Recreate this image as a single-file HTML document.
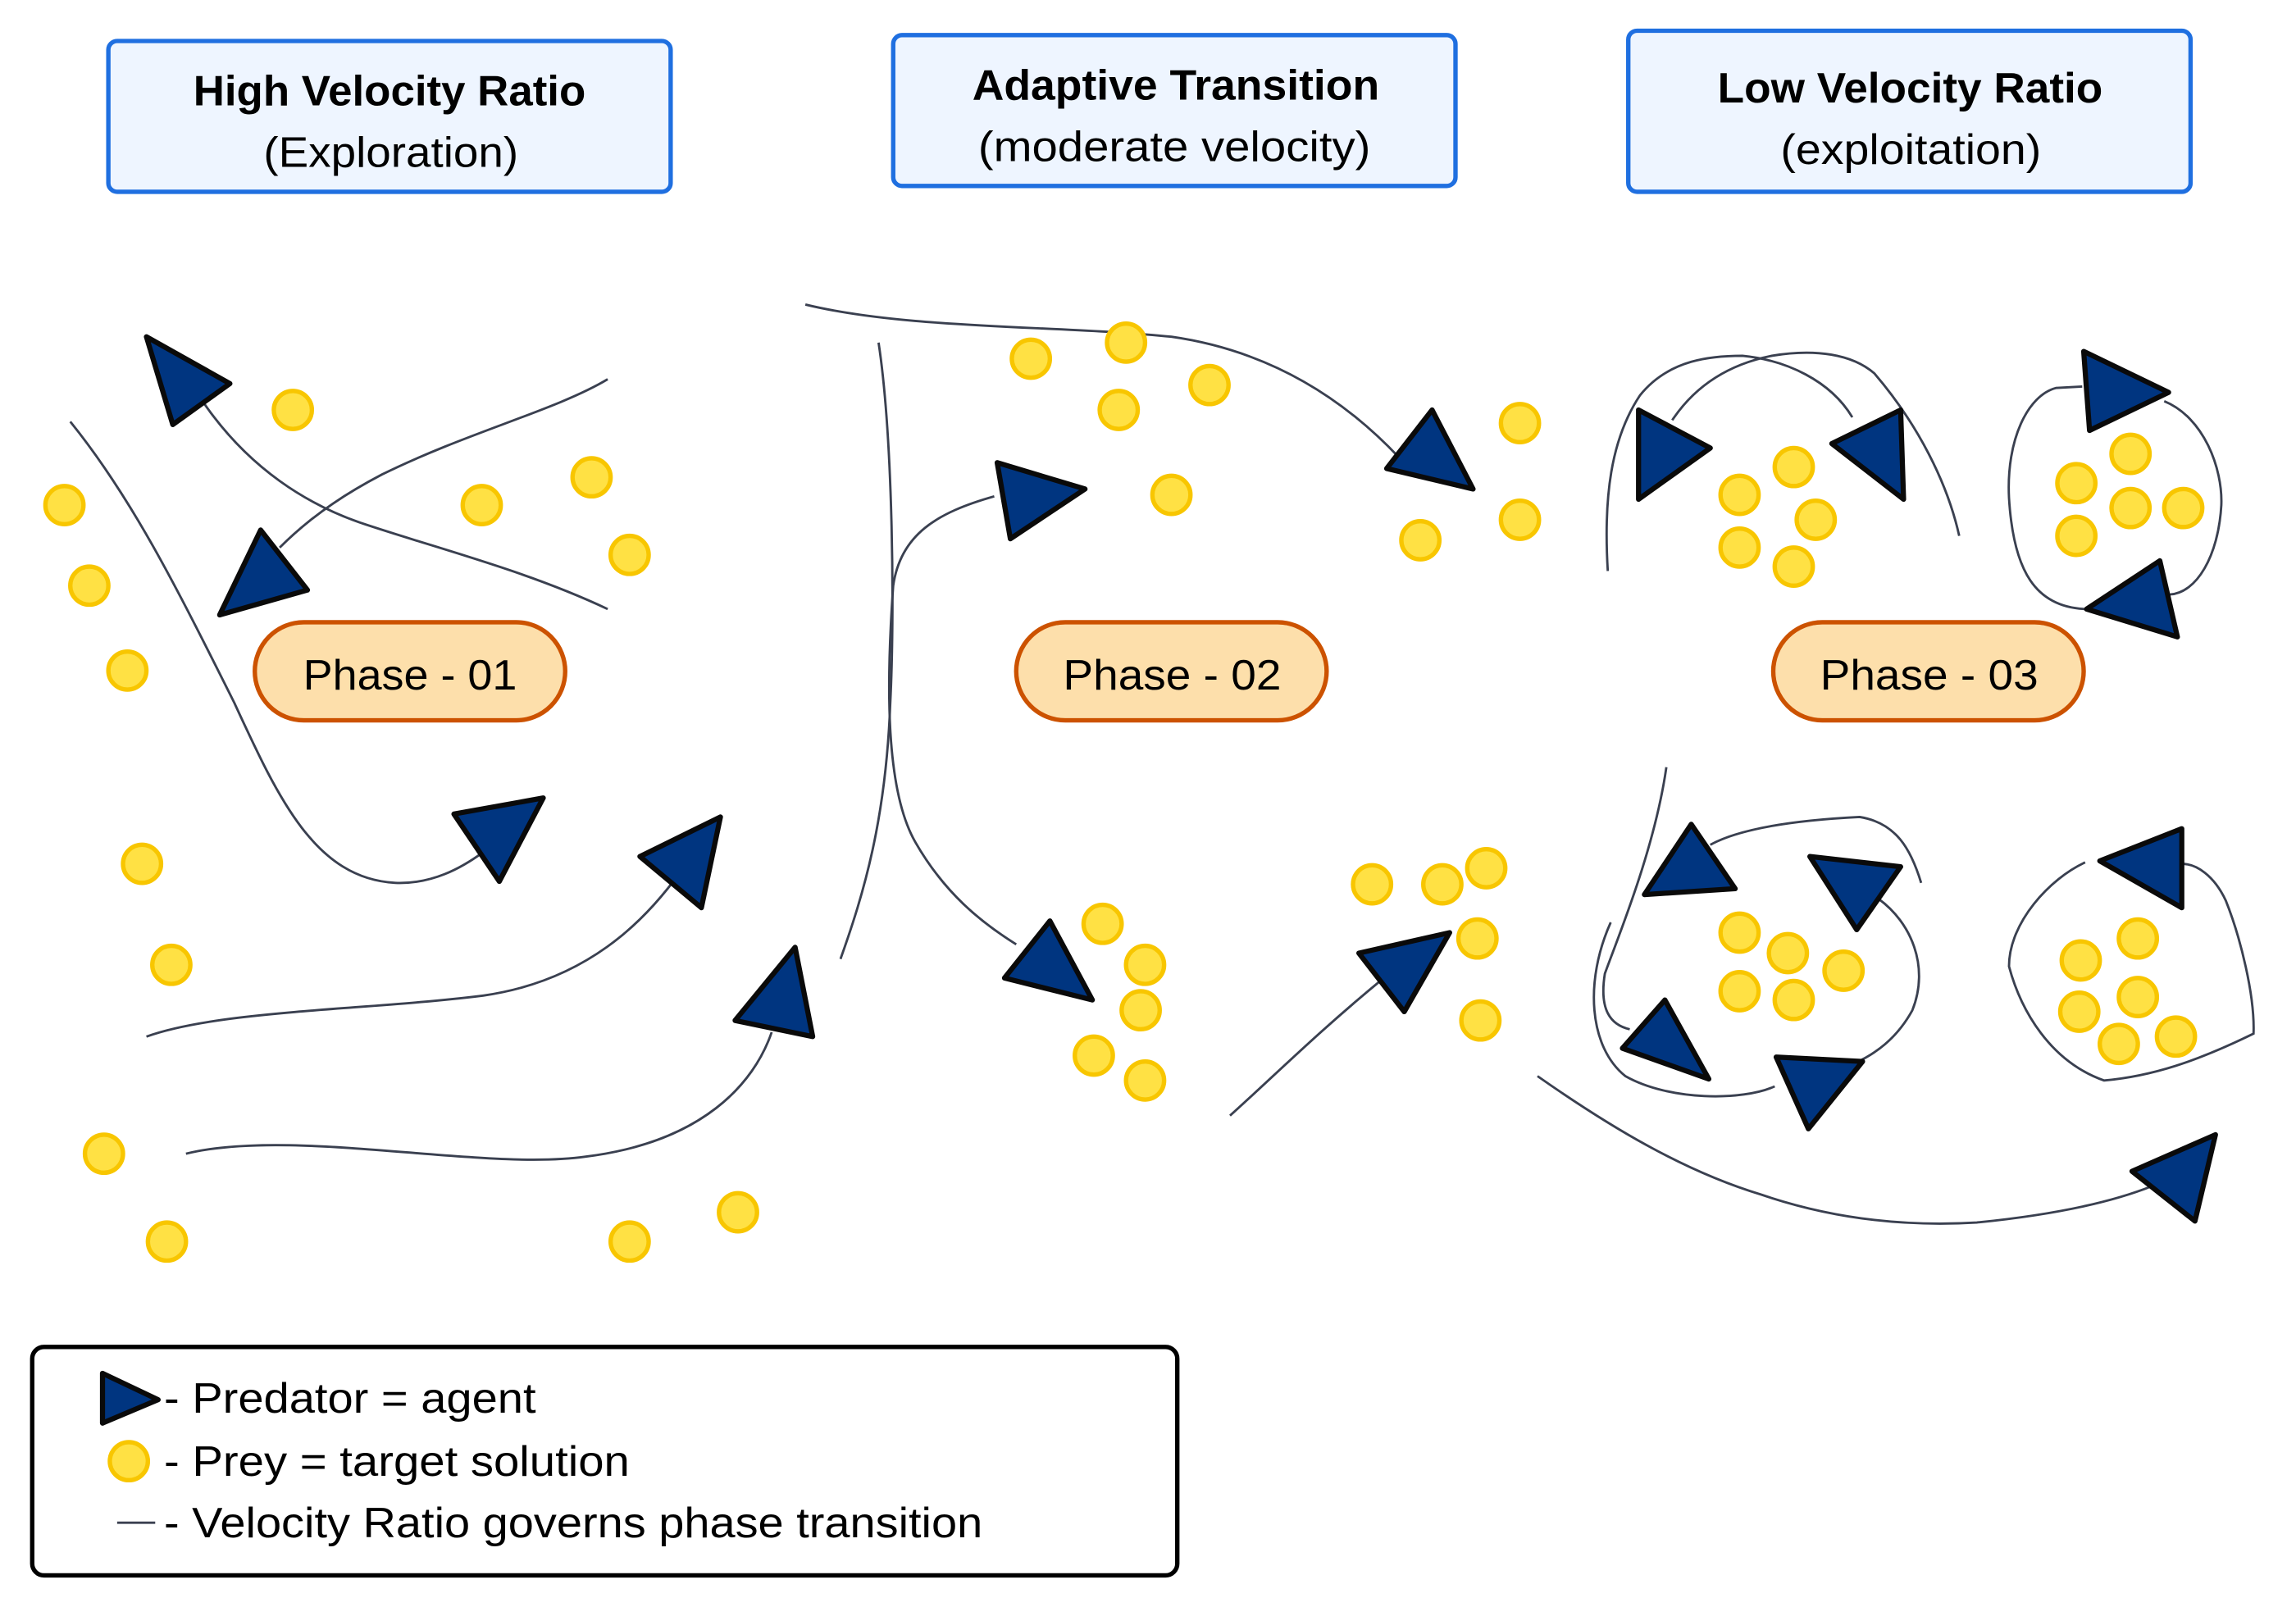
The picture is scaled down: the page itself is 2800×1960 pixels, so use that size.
<!DOCTYPE html>
<html><head><meta charset="utf-8"><style>
html,body{margin:0;padding:0;background:#fff;}
svg{display:block;}
text{font-family:"Liberation Sans",sans-serif;fill:#000;}
</style></head><body>
<svg width="2800" height="1960" viewBox="0 0 1568 1097.6" xmlns="http://www.w3.org/2000/svg">
<rect x="0" y="0" width="1568" height="1097.6" fill="#fff"/>
<g fill="#eef5ff" stroke="#1f6fe0" stroke-width="3">
<rect x="74" y="28" width="384" height="103" rx="6"/>
<rect x="610" y="24" width="384" height="103" rx="6"/>
<rect x="1112" y="21" width="384" height="110" rx="6"/>
</g>
<g font-size="29" lengthAdjust="spacingAndGlyphs">
<text x="132" y="72" font-weight="bold" textLength="268" lengthAdjust="spacingAndGlyphs">High Velocity Ratio</text>
<text x="180" y="114" textLength="174" lengthAdjust="spacingAndGlyphs">(Exploration)</text>
<text x="664" y="68" font-weight="bold" textLength="278" lengthAdjust="spacingAndGlyphs">Adaptive Transition</text>
<text x="668" y="110" textLength="268" lengthAdjust="spacingAndGlyphs">(moderate velocity)</text>
<text x="1173" y="70" font-weight="bold" textLength="263" lengthAdjust="spacingAndGlyphs">Low Velocity Ratio</text>
<text x="1216" y="112" textLength="178" lengthAdjust="spacingAndGlyphs">(exploitation)</text>
</g>
<g fill="none" stroke="#3a4050" stroke-width="1.6">
<path d="M48,288 C90,340 120,400 160,480 C190,545 215,600 270,603 C295,604 315,593 330,582"/>
<path d="M139,275 C170,320 210,345 249,358 C300,375 360,390 415,416"/>
<path d="M191,374 C215,350 240,335 261,324 C320,295 380,280 415,259"/>
<path d="M100,708 C150,690 250,690 330,680 C400,670 440,630 465,595"/>
<path d="M127,788 C200,770 330,800 400,790 C480,780 515,740 527,705"/>
<path d="M550,208 C620,225 720,222 800,230 C870,240 920,275 955,312"/>
<path d="M600,234 C610,300 611,420 608,480 C605,560 590,610 574,655"/>
<path d="M679,339 C640,350 615,365 610,400 C605,470 605,540 625,575 C645,610 670,630 694,645"/>
<path d="M840,762 C870,735 900,705 945,668"/>
<path d="M1098,390 C1095,340 1100,300 1120,270 C1140,245 1170,243 1190,243 C1220,246 1250,260 1265,285"/>
<path d="M1142,287 C1160,260 1185,248 1210,243 C1240,238 1265,242 1280,255 C1310,290 1330,330 1338,366"/>
<path d="M1422,264 L1404,265 C1385,270 1370,300 1372,340 C1375,390 1390,415 1425,416"/>
<path d="M1478,274 C1505,285 1518,320 1517,345 C1515,380 1500,405 1482,406"/>
<path d="M1138,524 C1130,580 1105,640 1096,665 C1092,690 1100,700 1113,703"/>
<path d="M1100,630 C1082,670 1085,715 1110,735 C1140,752 1190,752 1212,742"/>
<path d="M1283,614 C1305,630 1318,660 1306,690 C1295,710 1280,720 1267,726"/>
<path d="M1168,577 C1190,565 1230,560 1270,558 C1295,562 1305,580 1312,603"/>
<path d="M1424,589 C1400,600 1372,630 1372,660 C1380,690 1400,725 1437,738 C1470,735 1500,725 1539,706 C1540,680 1530,640 1520,615 C1512,598 1500,590 1490,590"/>
<path d="M1050,735 C1100,770 1150,800 1203,816 C1250,832 1300,838 1350,835 C1400,830 1440,822 1470,810"/>
</g>
<g fill="#ffe144" stroke="#f8c600" stroke-width="3">
<circle cx="200" cy="280" r="13"/><circle cx="44" cy="345" r="13"/><circle cx="61" cy="400" r="13"/><circle cx="87" cy="458" r="13"/><circle cx="329" cy="345" r="13"/><circle cx="404" cy="326" r="13"/><circle cx="430" cy="379" r="13"/><circle cx="97" cy="590" r="13"/><circle cx="117" cy="659" r="13"/><circle cx="71" cy="788" r="13"/><circle cx="114" cy="848" r="13"/><circle cx="430" cy="848" r="13"/><circle cx="504" cy="828" r="13"/>
<circle cx="704" cy="245" r="13"/><circle cx="769" cy="234" r="13"/><circle cx="764" cy="280" r="13"/><circle cx="826" cy="263" r="13"/><circle cx="800" cy="338" r="13"/><circle cx="1038" cy="289" r="13"/><circle cx="970" cy="369" r="13"/><circle cx="1038" cy="355" r="13"/><circle cx="753" cy="631" r="13"/><circle cx="782" cy="659" r="13"/><circle cx="779" cy="690" r="13"/><circle cx="747" cy="721" r="13"/><circle cx="782" cy="738" r="13"/><circle cx="937" cy="604" r="13"/><circle cx="985" cy="604" r="13"/><circle cx="1015" cy="593" r="13"/><circle cx="1009" cy="641" r="13"/><circle cx="1011" cy="697" r="13"/>
<circle cx="1188" cy="338" r="13"/><circle cx="1225" cy="319" r="13"/><circle cx="1240" cy="355" r="13"/><circle cx="1188" cy="374" r="13"/><circle cx="1225" cy="387" r="13"/>
<circle cx="1418" cy="330" r="13"/><circle cx="1455" cy="310" r="13"/><circle cx="1455" cy="347" r="13"/><circle cx="1491" cy="347" r="13"/><circle cx="1418" cy="366" r="13"/>
<circle cx="1188" cy="637" r="13"/><circle cx="1221" cy="651" r="13"/><circle cx="1259" cy="663" r="13"/><circle cx="1188" cy="677" r="13"/><circle cx="1225" cy="683" r="13"/>
<circle cx="1460" cy="641" r="13"/><circle cx="1421" cy="656" r="13"/><circle cx="1460" cy="681" r="13"/><circle cx="1420" cy="691" r="13"/><circle cx="1447" cy="713" r="13"/><circle cx="1486" cy="708" r="13"/>
</g>
<g fill="#003580" stroke="#0a0a0a" stroke-width="3.5" stroke-linejoin="round">
<polygon points="100,230 157,262 118,290"/>
<polygon points="178,362 210,403 150,420"/>
<polygon points="310,556 371,545 341,602"/>
<polygon points="437,585 492,558 479,620"/>
<polygon points="502,697 543,647 555,708"/>
<polygon points="681,316 741,334 690,368"/>
<polygon points="947,320 978,280 1006,334"/>
<polygon points="686,668 717,629 746,683"/>
<polygon points="928,651 990,637 959,691"/>
<polygon points="1119,280 1168,306 1119,341"/>
<polygon points="1298,280 1300,341 1251,303"/>
<polygon points="1423,240 1481,268 1427,294"/>
<polygon points="1425,416 1475,383 1487,435"/>
<polygon points="1123,611 1155,563 1185,607"/>
<polygon points="1236,585 1298,592 1268,635"/>
<polygon points="1108,716 1137,683 1167,737"/>
<polygon points="1213,722 1272,725 1235,771"/>
<polygon points="1434,588 1490,566 1490,620"/>
<polygon points="1456,800 1513,775 1499,834"/>
</g>
<g fill="#fddfab" stroke="#cc5200" stroke-width="3">
<rect x="174" y="425" width="212" height="67" rx="33.5"/>
<rect x="694" y="425" width="212" height="67" rx="33.5"/>
<rect x="1211" y="425" width="212" height="67" rx="33.5"/>
</g>
<g font-size="29">
<text x="207" y="471" textLength="146" lengthAdjust="spacingAndGlyphs">Phase - 01</text>
<text x="726" y="471" textLength="149" lengthAdjust="spacingAndGlyphs">Phase - 02</text>
<text x="1243" y="471" textLength="149" lengthAdjust="spacingAndGlyphs">Phase - 03</text>
</g>
<rect x="22" y="920" width="782" height="156" rx="8" fill="#fff" stroke="#000" stroke-width="3"/>
<polygon points="70,938 108,956 70,972" fill="#003580" stroke="#0a0a0a" stroke-width="3.5" stroke-linejoin="round"/>
<circle cx="88" cy="998" r="13" fill="#ffe144" stroke="#f8c600" stroke-width="3"/>
<line x1="80" y1="1040" x2="106" y2="1040" stroke="#3a4050" stroke-width="1.6"/>
<g font-size="29">
<text x="112" y="965" textLength="254" lengthAdjust="spacingAndGlyphs">- Predator = agent</text>
<text x="112" y="1008" textLength="318" lengthAdjust="spacingAndGlyphs">- Prey = target solution</text>
<text x="112" y="1050" textLength="559" lengthAdjust="spacingAndGlyphs">- Velocity Ratio governs phase transition</text>
</g>
</svg>
</body></html>
